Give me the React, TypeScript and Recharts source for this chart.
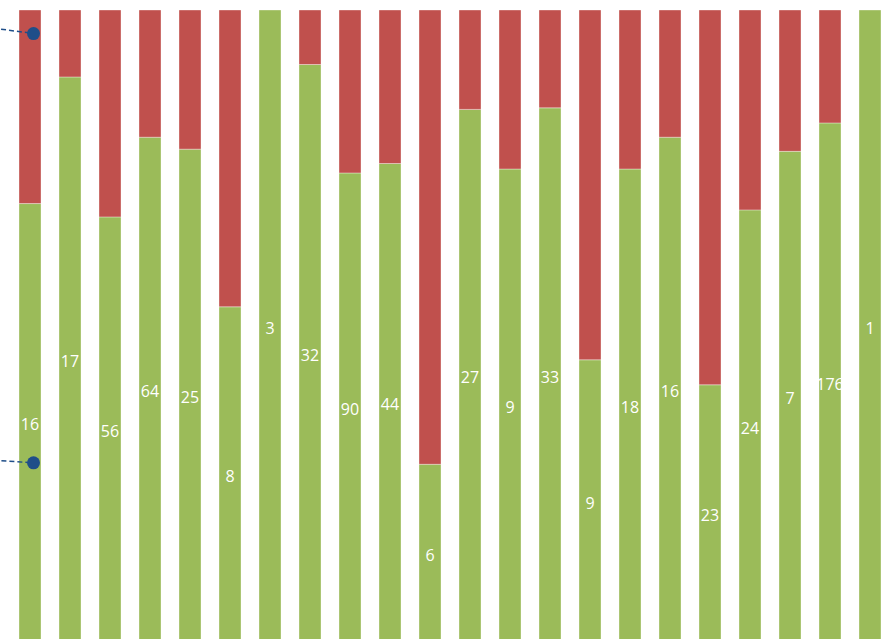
import { ComposedChart, Bar, Line, XAxis, YAxis, LabelList } from 'recharts';

const categories = ['1', '2', '3', '4', '5', '6', '7', '8', '9', '10', '11', '12', '13', '14', '15', '16', '17', '18', '19', '20', '21', '22'];
const greenCounts = [16, 17, 56, 64, 25, 8, 3, 32, 90, 44, 6, 27, 9, 33, 9, 18, 16, 23, 24, 7, 176, 1];
const redCounts = [7, 2, 27, 16, 7, 7, 0, 3, 31, 14, 15, 5, 3, 6, 11, 6, 4, 33, 11, 2, 38, 0];

// the two dashed marker lines, only their last point falls inside the plot
const markerX = [0.0875 - 1, 1.0875];
const upperMarker = [0.98, 0.963];
const lowerMarker = [0.296, 0.288];

const data = categories.map((name, i) => ({
  name,
  green: greenCounts[i],
  red: redCounts[i],
}));

const markerData = markerX.map((x, i) => ({
  x,
  upper: upperMarker[i],
  lower: lowerMarker[i],
}));

const GREEN = '#9BBB59';
const RED = '#C0504D';
const BLUE = '#1F4E89';

export default function App() {
  return (
    <div style={{ position: 'fixed', top: 0, left: 0, width: 890, height: 639, overflow: 'hidden', background: '#fff' }}>
      <ComposedChart
        width={890}
        height={656}
        data={data}
        stackOffset="expand"
        margin={{ top: 10, right: 0, bottom: 10, left: 0 }}
      >
        <XAxis dataKey="name" hide padding={{ left: 10, right: 0 }} />
        <XAxis
          xAxisId="pos"
          type="number"
          dataKey="x"
          domain={[0.25, 22.5]}
          allowDataOverflow
          hide
        />
        <YAxis hide domain={[0, 1]} />
        <YAxis yAxisId="marker" hide domain={[0, 1]} allowDataOverflow />
        <Bar
          dataKey="green"
          stackId="a"
          fill={GREEN}
          stroke="rgba(255,255,255,0.35)"
          strokeWidth={1}
          barSize={22}
          isAnimationActive={false}
        >
          <LabelList
            dataKey="green"
            position="center"
            fill="#fff"
            style={{ fontFamily: '"Open Sans", sans-serif', fontSize: 16 }}
          />
        </Bar>
        <Bar
          dataKey="red"
          stackId="a"
          fill={RED}
          stroke="rgba(255,255,255,0.35)"
          strokeWidth={1}
          barSize={22}
          isAnimationActive={false}
        />
        <Line
          data={markerData}
          xAxisId="pos"
          yAxisId="marker"
          dataKey="upper"
          stroke={BLUE}
          strokeWidth={1.5}
          strokeDasharray="5 3"
          dot={{ r: 6.5, fill: BLUE, stroke: BLUE, strokeWidth: 0 }}
          isAnimationActive={false}
        />
        <Line
          data={markerData}
          xAxisId="pos"
          yAxisId="marker"
          dataKey="lower"
          stroke={BLUE}
          strokeWidth={1.5}
          strokeDasharray="5 3"
          dot={{ r: 6.5, fill: BLUE, stroke: BLUE, strokeWidth: 0 }}
          isAnimationActive={false}
        />
      </ComposedChart>
    </div>
  );
}
